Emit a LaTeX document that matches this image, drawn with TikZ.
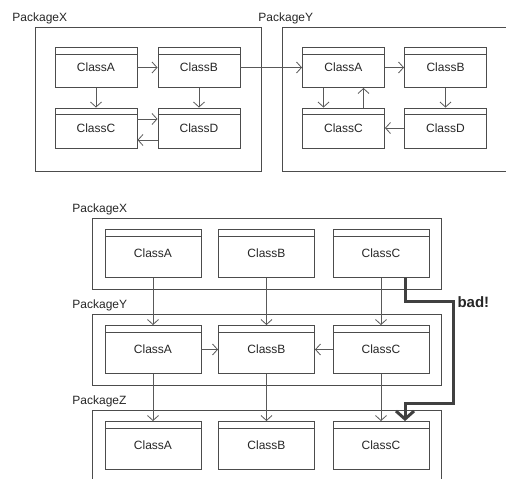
\documentclass[tikz,border=0pt]{standalone}
\usepackage{fontspec}
\setmainfont{Liberation Sans}
\usetikzlibrary{arrows.meta}
\begin{document}
\begin{tikzpicture}[x=1pt,y=-1pt,
  line width=0.9pt,
  every node/.style={text=black!85},
  frame/.style={draw=black!70,line width=0.9pt,inner sep=0pt},
  pkgname/.style={anchor=base west,inner sep=0pt,font=\fontsize{12}{14}\selectfont},
  cls/.style={draw=black!70,inner sep=0pt,font=\fontsize{12}{14}\selectfont,
    path picture={\draw[black!70,line width=0.9pt]
      ([yshift=-6.5pt]path picture bounding box.north west) --
      ([yshift=-6.5pt]path picture bounding box.north east);}},
  small/.style={cls,minimum width=82pt,minimum height=40pt,text depth=-2pt},
  big/.style={cls,minimum width=96pt,minimum height=48pt,text depth=-2pt},
  dep/.style={draw=black!65,line width=0.8pt,-{Straight Barb[length=5pt,width=11pt]}},
  bad/.style={draw=black!75,line width=3pt,-{Straight Barb[length=8pt,width=18pt]}}]
\useasboundingbox (0,0) rectangle (506,479);
\clip (0,0) rectangle (506,479);

% top : two packages side by side
\node[frame,minimum width=226pt,minimum height=144pt] (pkgX) at (148,99) {};
\node[frame,minimum width=228pt,minimum height=144pt] (pkgY) at (396,99) {};
\node[pkgname] (lblX) at (12,21) {PackageX};
\node[pkgname] (lblY) at (258,21) {PackageY};

\node[small] (xA) at (96,67.5) {ClassA};
\node[small] (xB) at (199,67.5) {ClassB};
\node[small] (xC) at (96,128) {ClassC};
\node[small] (xD) at (199,128) {ClassD};

\node[small] (yA) at (343.5,67.5) {ClassA};
\node[small] (yB) at (445.5,67.5) {ClassB};
\node[small] (yC) at (343.5,128) {ClassC};
\node[small] (yD) at (445.5,128) {ClassD};

\draw[dep] (xA) -- (xB);
\draw[dep] (xA) -- (xC);
\draw[dep] (xB) -- (xD);
\draw[dep] ([yshift=9pt]xC.east) -- ([yshift=9pt]xD.west);
\draw[dep] ([yshift=-12pt]xD.west) -- ([yshift=-12pt]xC.east);
\draw[dep] (xB) -- (yA);

\draw[dep] (yA) -- (yB);
\draw[dep] ([xshift=-20pt]yA.south) -- ([xshift=-20pt]yC.north);
\draw[dep] ([xshift=20pt]yC.north) -- ([xshift=20pt]yA.south);
\draw[dep] (yB) -- (yD);
\draw[dep] (yD) -- (yC);

% bottom : three layers
\node[frame,minimum width=349pt,minimum height=71pt] (pX) at (266.5,253.5) {};
\node[frame,minimum width=349pt,minimum height=71pt] (pY) at (266.5,349.5) {};
\node[frame,minimum width=349pt,minimum height=90pt] (pZ) at (266.5,455) {};
\node[pkgname] (lblpX) at (72,212) {PackageX};
\node[pkgname] (lblpY) at (72,308) {PackageY};
\node[pkgname] (lblpZ) at (72,404) {PackageZ};

\node[big] (pxA) at (153,253.5) {ClassA};
\node[big] (pxB) at (266.5,253.5) {ClassB};
\node[big] (pxC) at (381,253.5) {ClassC};
\node[big] (pyA) at (153,349.5) {ClassA};
\node[big] (pyB) at (266.5,349.5) {ClassB};
\node[big] (pyC) at (381,349.5) {ClassC};
\node[big] (pzA) at (153,445.5) {ClassA};
\node[big] (pzB) at (266.5,445.5) {ClassB};
\node[big] (pzC) at (381,445.5) {ClassC};

\draw[dep] (pxA) -- (pyA);
\draw[dep] (pxB) -- (pyB);
\draw[dep] (pxC) -- (pyC);
\draw[dep] (pyA) -- (pyB);
\draw[dep] (pyC) -- (pyB);
\draw[dep] (pyA) -- (pzA);
\draw[dep] (pyB) -- (pzB);
\draw[dep] (pyC) -- (pzC);

\draw[bad] ([xshift=24pt]pxC.south) -- ++(0,24) -- ++(48,0)
  node[right,inner sep=3pt,font=\fontsize{15}{17}\selectfont\bfseries] (badlbl) {bad!}
  -- ++(0,102) -- ++(-48,0) -- ([xshift=24pt]pzC.north);
\end{tikzpicture}
\end{document}
